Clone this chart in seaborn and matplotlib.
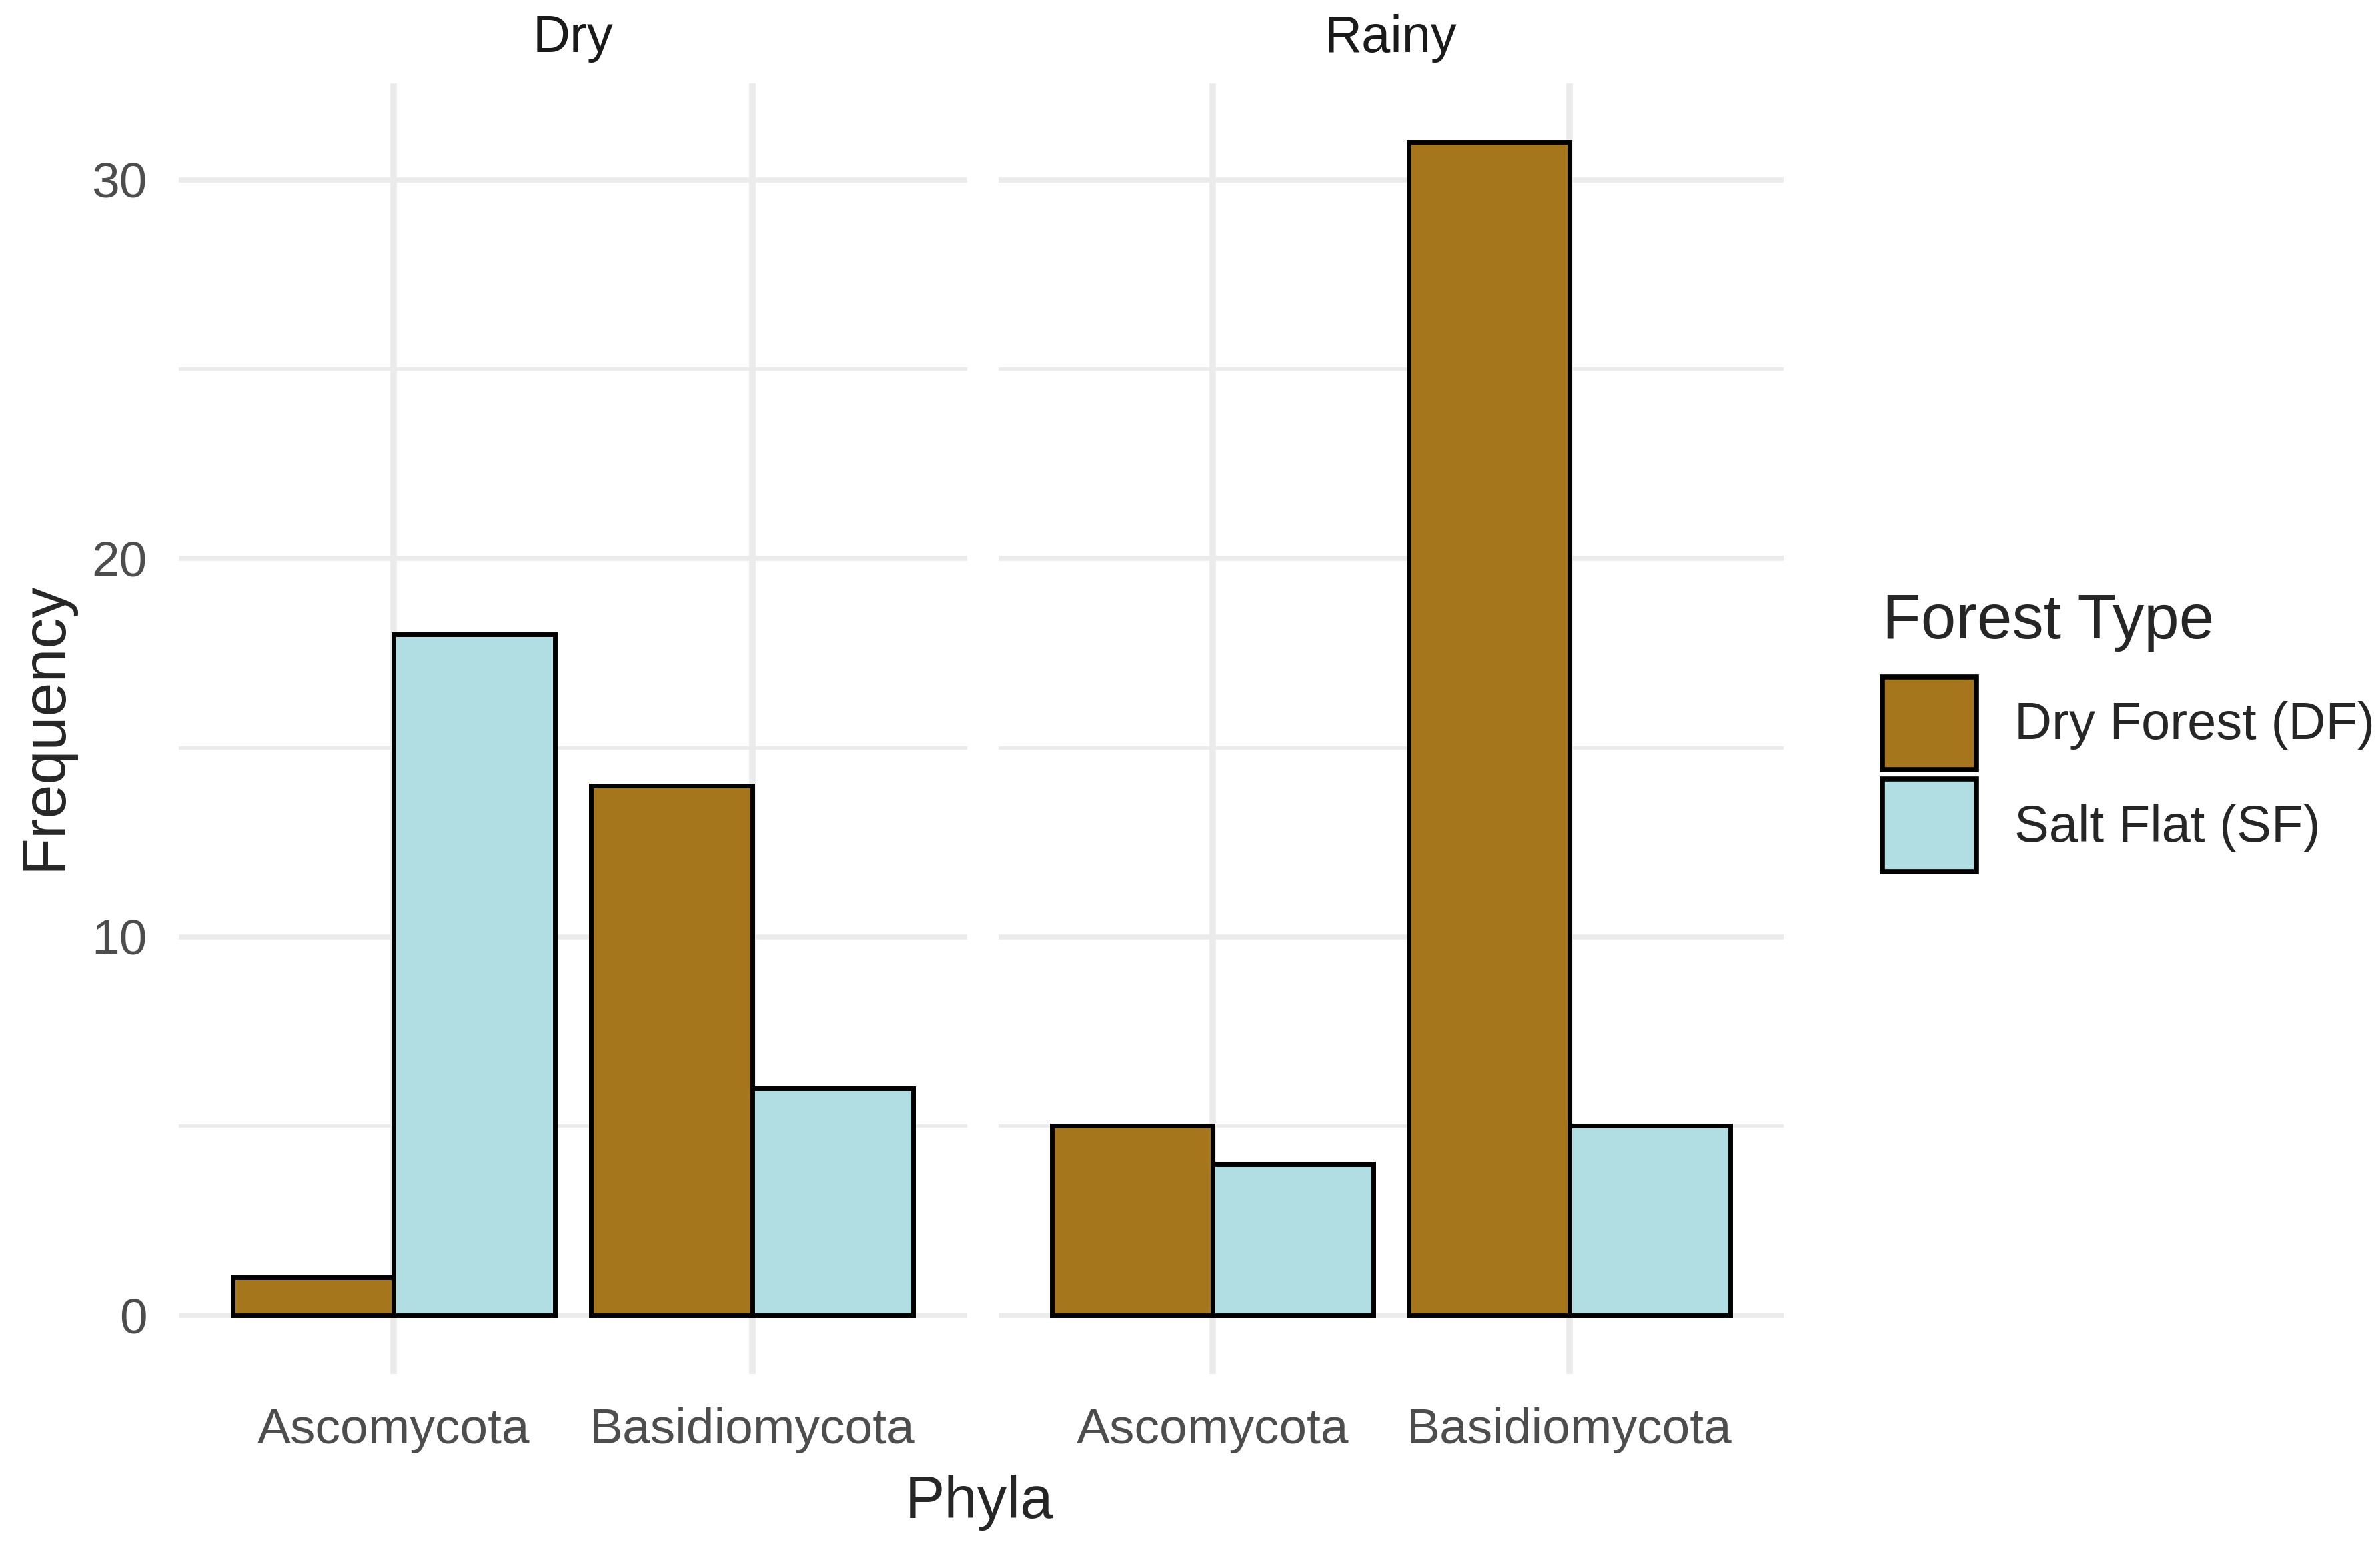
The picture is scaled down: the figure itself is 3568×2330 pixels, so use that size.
import numpy as np
import pandas as pd
import matplotlib
matplotlib.use("Agg")
import matplotlib.pyplot as plt
from matplotlib.patches import Patch
import seaborn as sns

# === Données ===
seasons = ["Dry", "Rainy"]
phyla = ["Ascomycota", "Basidiomycota"]
forest_types = ["Dry Forest (DF)", "Salt Flat (SF)"]
dry_df = [1, 14]
dry_sf = [18, 6]
rainy_df = [5, 31]
rainy_sf = [4, 5]

colors = ["#A6761D", "#B0DEE3"]

rows = []
for season, df_vals, sf_vals in [("Dry", dry_df, dry_sf), ("Rainy", rainy_df, rainy_sf)]:
    for i, p in enumerate(phyla):
        rows.append({"Season": season, "Phyla": p, "Forest Type": forest_types[0], "Frequency": df_vals[i]})
        rows.append({"Season": season, "Phyla": p, "Forest Type": forest_types[1], "Frequency": sf_vals[i]})
data = pd.DataFrame(rows)

sns.set_theme(style="white")
plt.rcParams['font.family'] = ['Liberation Sans', 'DejaVu Sans']

W, H = 3568, 2330
fig = plt.figure(figsize=(W / 100, H / 100), dpi=100)

panels = [(268, 1450), (1497, 2674)]
top, bottom = 125, 2060
grid_col = "#EBEBEB"

for k, season in enumerate(seasons):
    x0, x1 = panels[k]
    ax = fig.add_axes([x0 / W, 1 - bottom / H, (x1 - x0) / W, (bottom - top) / H])
    sub = data[data["Season"] == season]
    sns.barplot(data=sub, x="Phyla", y="Frequency", hue="Forest Type",
                order=phyla, hue_order=forest_types, palette=colors, saturation=1,
                width=0.9, gap=0, edgecolor="black", linewidth=5,
                errorbar=None, legend=False, ax=ax, zorder=3)
    ax.set_xlim(-0.6, 1.6)
    ax.set_ylim(-1.55, 32.55)
    ax.set_yticks([0, 10, 20, 30])
    ax.set_yticks([5, 15, 25], minor=True)
    ax.grid(True, which="major", axis="x", color=grid_col, linewidth=7, zorder=0)
    ax.grid(True, which="major", axis="y", color=grid_col, linewidth=5.5, zorder=0)
    ax.grid(True, which="minor", axis="y", color=grid_col, linewidth=3.5, zorder=0)
    ax.set_axisbelow(True)
    for s in ax.spines.values():
        s.set_visible(False)
    ax.tick_params(axis="both", which="both", length=0, labelsize=54, labelcolor="#4D4D4D")
    ax.tick_params(axis="y", pad=34)
    ax.tick_params(axis="x", pad=36)
    ax.set_xlabel("")
    ax.set_ylabel("")
    if k == 1:
        ax.set_yticklabels([])
    ax.set_title(season, fontsize=56, color="#1A1A1A", pad=34)

fig.text(1468 / W, 1 - 2253 / H, "Phyla", fontsize=64, ha="center", va="center")
fig.text(68 / W, 1 - 1088 / H, "Frequency", fontsize=66, ha="center", va="center", rotation=90)

handles = [Patch(facecolor=c, edgecolor="black", linewidth=5.5) for c in colors]
leg = fig.legend(handles, forest_types, title="Forest Type", loc="upper left",
                 bbox_to_anchor=(2822 / W, 1 - 888 / H), frameon=False,
                 fontsize=56, title_fontsize=68, handlelength=1.81, handleheight=2.38,
                 handletextpad=0.73, labelspacing=0.18, borderaxespad=0, borderpad=0)
leg._legend_box.align = "left"
leg._legend_box.sep = 27  # plus d'espace entre le titre et les clés

fig.savefig("out.png", dpi=100, facecolor="white")
